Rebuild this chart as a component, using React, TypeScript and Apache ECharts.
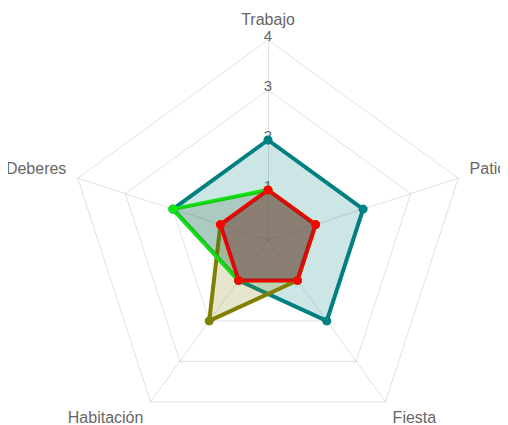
import React, { useEffect, useRef } from "react";
import * as echarts from "echarts";

// ECharts lays radar indicators out counter-clockwise from the top
const indicators = ["Trabajo", "Deberes", "Habitación", "Fiesta", "Patio"];
const maxValue = 4;
const tealValues = [2, 2, 1, 2, 2];
const oliveValues = [1, 1, 2, 1, 1];
const greenValues = [1, 2, 1, 1, 1];
const redValues = [1, 1, 1, 1, 1];

export default function App() {
  const ref = useRef<HTMLDivElement>(null);
  useEffect(() => {
    if (!ref.current) return;
    const chart = echarts.init(ref.current, undefined, { renderer: "svg" });
    const font = "'Liberation Sans', Arial, Helvetica, sans-serif";
    const mk = (name: string, values: number[], color: string, area: string) => ({
      type: "radar",
      name,
      data: [{ value: values }],
      symbol: "circle",
      symbolSize: 9,
      lineStyle: { color, width: 4 },
      itemStyle: { color },
      areaStyle: { color: area, opacity: 1 },
    });
    // side labels sit a little higher, bottom labels a little lower
    const nameFormatter = (name: string) => {
      const i = indicators.indexOf(name);
      if (i === 1 || i === 4) return `{t|${name}}\n{g| }`;
      if (i === 2 || i === 3) return `{g| }\n{t|${name}}`;
      return `{t|${name}}`;
    };
    chart.setOption({
      animation: false,
      radar: {
        center: [264, 232],
        radius: 200,
        startAngle: 90,
        splitNumber: 4,
        shape: "polygon",
        nameGap: 12,
        axisName: {
          color: "#666",
          fontSize: 16,
          fontFamily: font,
          formatter: nameFormatter,
          rich: {
            t: { color: "#666", fontSize: 16, fontFamily: font, lineHeight: 18 },
            g: { fontSize: 1, lineHeight: 12 },
          },
        },
        indicator: indicators.map((n, i) => ({
          name: n,
          min: 0,
          max: maxValue,
          ...(i === 0
            ? {
                axisLabel: {
                  show: true,
                  color: "#666",
                  fontSize: 15,
                  fontFamily: font,
                  margin: 0,
                  align: "center",
                  verticalAlign: "bottom",
                  lineHeight: 9,
                  formatter: (v: number) => (v === 0 ? "" : String(v)),
                },
              }
            : {}),
        })),
        axisLabel: { show: false },
        axisTick: { show: false },
        axisLine: { lineStyle: { color: "rgba(0,0,0,0.12)", width: 1 } },
        splitLine: { lineStyle: { color: "rgba(0,0,0,0.12)", width: 1 } },
        splitArea: { show: false },
      },
      series: [
        mk("teal", tealValues, "#008080", "rgba(0,128,128,0.2)"),
        mk("olive", oliveValues, "#808000", "rgba(128,128,0,0.2)"),
        mk("green", greenValues, "#11e611", "rgba(40,90,40,0.2)"),
        mk("red", redValues, "#ff0000", "rgba(111,41,55,0.4)"),
      ],
    });
    return () => chart.dispose();
  }, []);
  return <div ref={ref} style={{ width: 500, height: 417, marginLeft: -4 }} />;
}
